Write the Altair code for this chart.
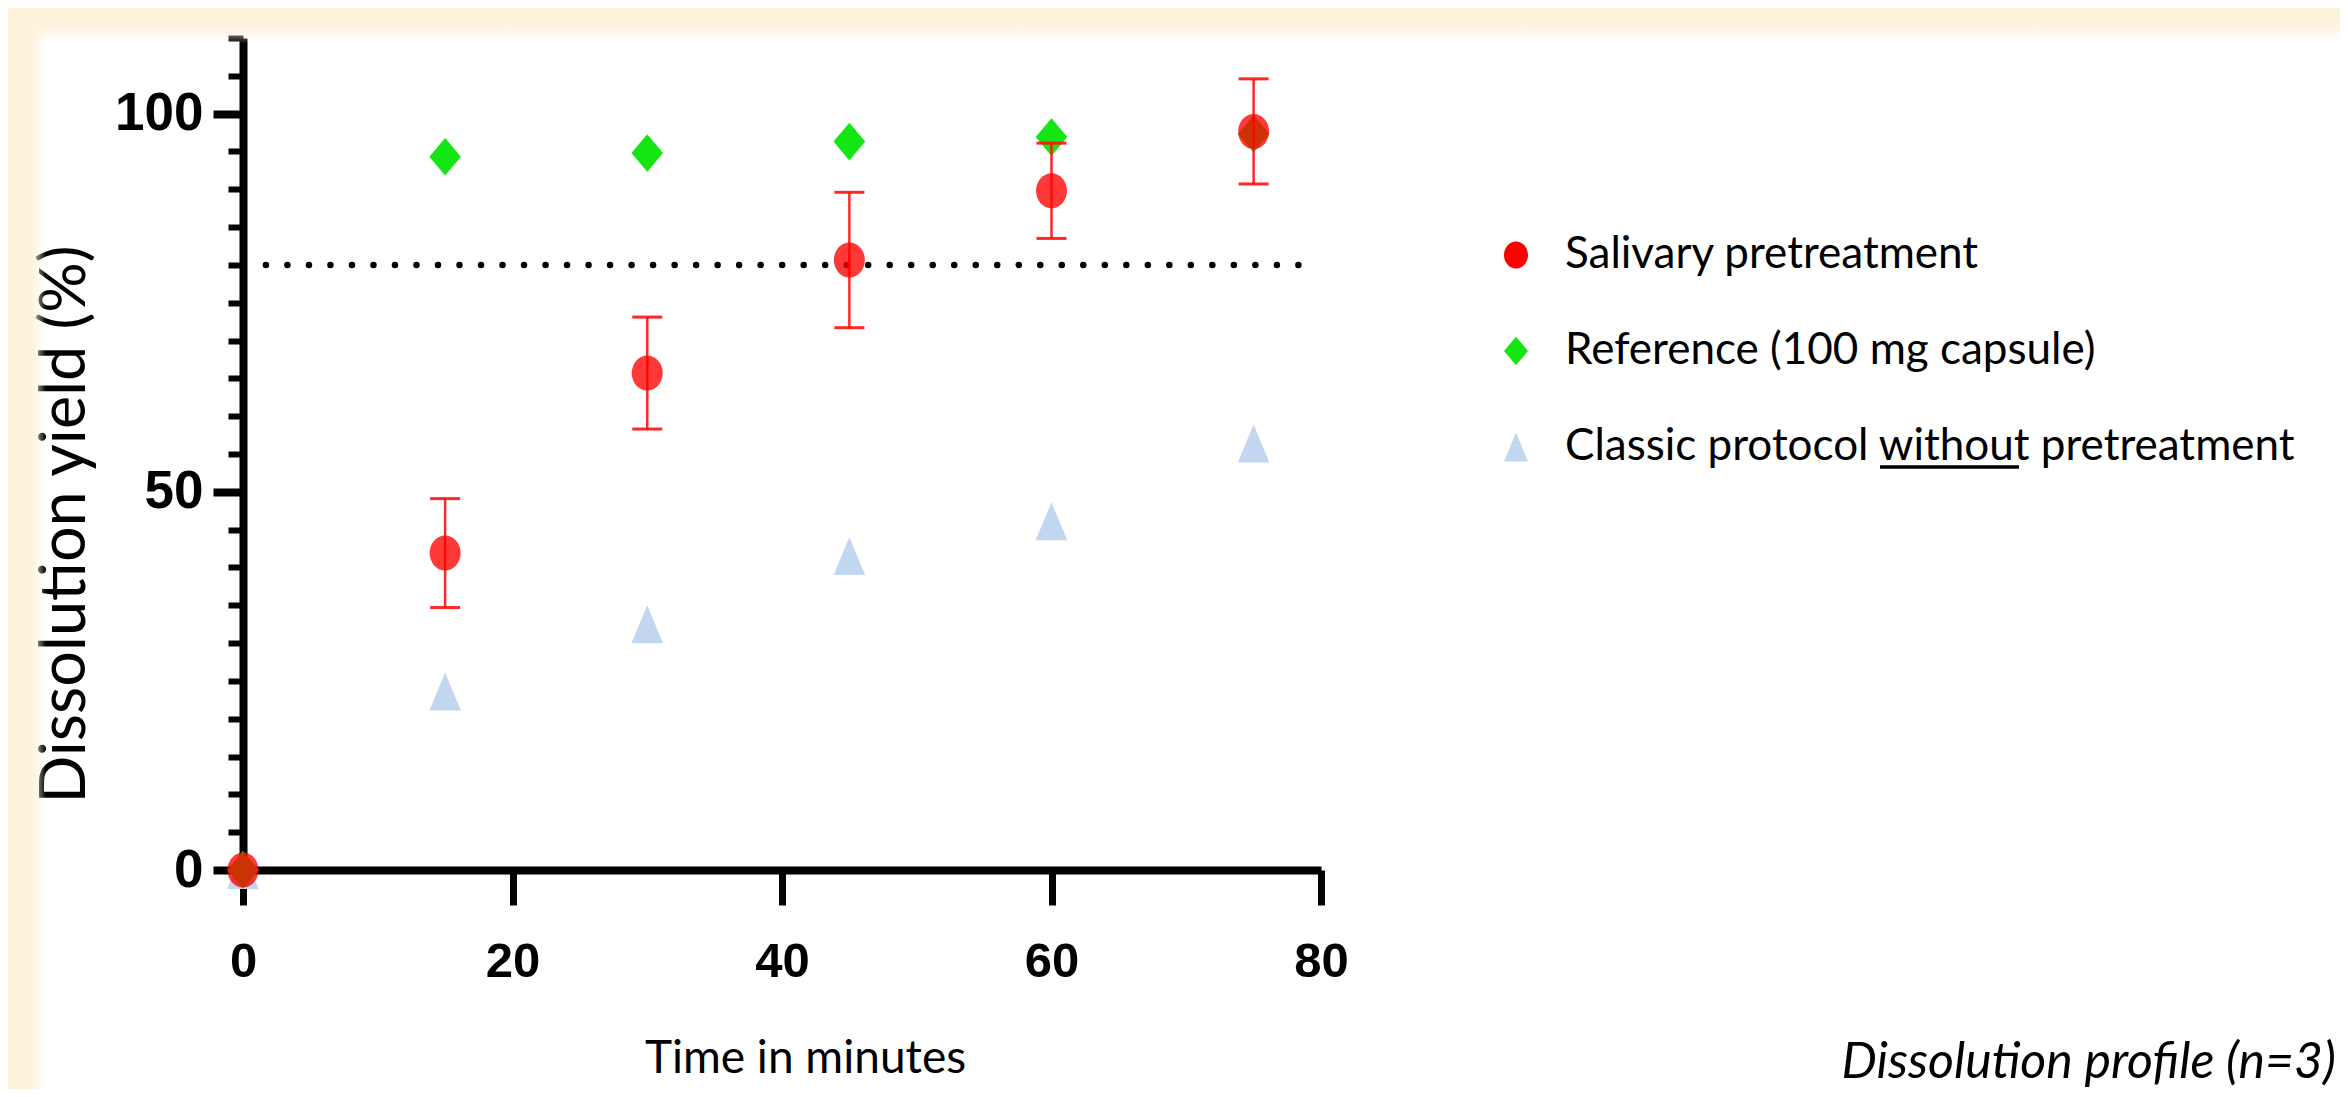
import altair as alt
import pandas as pd

# ---------------- data ----------------
time_min = [0, 15, 30, 45, 60, 75]
salivary = [0, 41.9, 65.7, 80.65, 89.8, 97.65]
salivary_sd = [0, 7.2, 7.4, 8.95, 6.3, 6.95]
reference = [0, 94.3, 94.8, 96.3, 96.9, 97.3]
classic = [0, 23.6, 32.5, 41.5, 46.1, 56.4]

threshold_y = [80]
threshold_from = [1.7]
threshold_to = [78.5]

x_ticks = [0, 20, 40, 60, 80]
y_ticks = list(range(0, 115, 5))

caption = ["Dissolution profile (n=3)"]

series_keys = ["sal", "ref", "cls"]
series_names = [
    "Salivary pretreatment",
    "Reference (100 mg capsule)",
    "Classic protocol without pretreatment",
]
series_colors = ["#FF0000", "#14E614", "#C3D6F0"]
series_shapes = [
    "M1,0A1,1.13,0,1,1,-1,0A1,1.13,0,1,1,1,0Z",
    "M0,-1.19L1,0L0,1.19L-1,0Z",
    "M0,-1.2L1,1.2L-1,1.2Z",
]

# ---------------- tables ----------------
rows = []
for key, name, vals in zip(series_keys, series_names, [salivary, reference, classic]):
    for t, v in zip(time_min, vals):
        rows.append({"time": t, "value": v, "series": name, "key": key})
points_df = pd.DataFrame(rows)

err_df = pd.DataFrame({
    "time": time_min[1:],
    "lo": [m - s for m, s in zip(salivary[1:], salivary_sd[1:])],
    "hi": [m + s for m, s in zip(salivary[1:], salivary_sd[1:])],
})

thr_df = pd.DataFrame({"x1": threshold_from, "x2": threshold_to, "y": threshold_y})
cap_df = pd.DataFrame({"caption": caption})
one_df = pd.DataFrame({"k": [0]})

# ---------------- scales / axes ----------------
NUM = "Liberation Sans"
TXT = "Lato"

x_scale = alt.Scale(domain=[0, 80], nice=False, zero=False)
y_scale = alt.Scale(domain=[0, 110], nice=False, zero=False)

is_major = "datum.value % 50 === 0"

x_axis = alt.Axis(
    title="Time in minutes",
    values=x_ticks,
    grid=False,
    domainColor="black", domainWidth=8,
    tickColor="black", tickSize=35, tickWidth=7,
    labelFont=NUM, labelFontSize=49, labelFontWeight="bold", labelColor="black",
    labelPadding=32, labelFlush=False, labelOverlap=False,
    titleFont=TXT, titleFontSize=46, titleFontWeight="normal", titleColor="black",
    titleX=562, titleY=202, titleAlign="center", titleBaseline="alphabetic",
)

y_axis = alt.Axis(
    title="Dissolution yield (%)",
    values=y_ticks,
    grid=False,
    domainColor="black", domainWidth=8,
    tickColor="black",
    tickSize={"condition": {"test": is_major, "value": 30}, "value": 15},
    tickWidth={"condition": {"test": is_major, "value": 8}, "value": 6},
    labelExpr=is_major + " ? datum.label : ''",
    labelFont=NUM, labelFontSize=53, labelFontWeight="bold", labelColor="black",
    labelPadding=10, labelOverlap=False,
    titleFont=TXT, titleFontSize=63, titleFontWeight="normal", titleColor="black",
    titleAngle=270, titleX=-159, titleY=486, titleAlign="center", titleBaseline="alphabetic",
)

legend = alt.Legend(
    title=None,
    orient="none", legendX=1251, legendY=195,
    labelFont=TXT, labelFontSize=44, labelColor="black", labelLimit=1200,
    labelOffset=27, rowPadding=52, symbolSize=576, symbolStrokeWidth=0,
    symbolOpacity=1, padding=0,
)

color_enc = alt.Color("series:N", scale=alt.Scale(domain=series_names, range=series_colors), legend=legend)
shape_enc = alt.Shape("series:N", scale=alt.Scale(domain=series_names, range=series_shapes), legend=legend)


def pts(key, size, opacity):
    return (
        alt.Chart(points_df)
        .transform_filter(alt.datum.key == key)
        .mark_point(filled=True, size=size, opacity=opacity, strokeWidth=0)
        .encode(
            x=alt.X("time:Q", scale=x_scale, axis=x_axis),
            y=alt.Y("value:Q", scale=y_scale, axis=y_axis),
            color=color_enc,
            shape=shape_enc,
        )
    )


# ---------------- decoration (cream frame of the slide, underline of "without") ----------------
cream = "#FDF2DA"
cream0 = "rgba(253,242,218,0)"
left_strip = alt.Chart(one_df).mark_rect(
    fill=alt.LinearGradient(
        gradient="linear", x1=0, x2=1, y1=0, y2=0,
        stops=[alt.GradientStop(offset=0, color=cream), alt.GradientStop(offset=0.55, color=cream),
               alt.GradientStop(offset=0.95, color=cream0)]),
    strokeWidth=0,
).encode(x=alt.value(-235), x2=alt.value(-195), y=alt.value(-30), y2=alt.value(1051))

top_strip = alt.Chart(one_df).mark_rect(
    fill=alt.LinearGradient(
        gradient="linear", x1=0, x2=0, y1=0, y2=1,
        stops=[alt.GradientStop(offset=0, color=cream), alt.GradientStop(offset=0.35, color=cream),
               alt.GradientStop(offset=0.9, color=cream0)]),
    strokeWidth=0,
).encode(x=alt.value(-235), x2=alt.value(2097), y=alt.value(-30), y2=alt.value(10))

underline = alt.Chart(one_df).mark_rule(color="black", strokeWidth=3.5).encode(
    x=alt.value(1637), x2=alt.value(1776), y=alt.value(429)
)

# ---------------- layers ----------------
thr = alt.Chart(thr_df).mark_rule(
    color="black", strokeWidth=6.5, strokeDash=[0.01, 21.5], strokeCap="round"
).encode(
    x=alt.X("x1:Q", scale=x_scale, axis=x_axis),
    x2="x2:Q",
    y=alt.Y("y:Q", scale=y_scale, axis=y_axis),
)

err_rule = alt.Chart(err_df).mark_rule(color="#FF1010", strokeWidth=2.5, opacity=0.9).encode(
    x=alt.X("time:Q", scale=x_scale, axis=x_axis),
    y=alt.Y("lo:Q", scale=y_scale, axis=y_axis),
    y2="hi:Q",
)

err_caps = alt.Chart(err_df).transform_fold(["lo", "hi"], as_=["which", "bound"]).mark_tick(
    color="#FF1010", orient="horizontal", size=30, thickness=3, opacity=0.9
).encode(
    x=alt.X("time:Q", scale=x_scale, axis=x_axis),
    y=alt.Y("bound:Q", scale=y_scale, axis=y_axis),
)

caption_layer = alt.Chart(cap_df).mark_text(
    font=TXT, fontSize=50, fontStyle="italic", color="black", align="right", baseline="alphabetic"
).encode(text="caption:N", x=alt.value(2093), y=alt.value(1040))

chart = alt.layer(
    left_strip,
    top_strip,
    pts("cls", 1000, 1),
    pts("ref", 1000, 1),
    thr,
    err_rule,
    err_caps,
    pts("sal", 961, 0.78),
    caption_layer,
    underline,
).properties(
    width=1078,
    height=832,
    padding={"left": 235, "top": 30, "right": 1019, "bottom": 219},
    autosize=alt.AutoSizeParams(type="none"),
    background="white",
).configure_view(strokeWidth=0)

chart.save("out.html", embed_options={"renderer": "svg", "actions": False})
